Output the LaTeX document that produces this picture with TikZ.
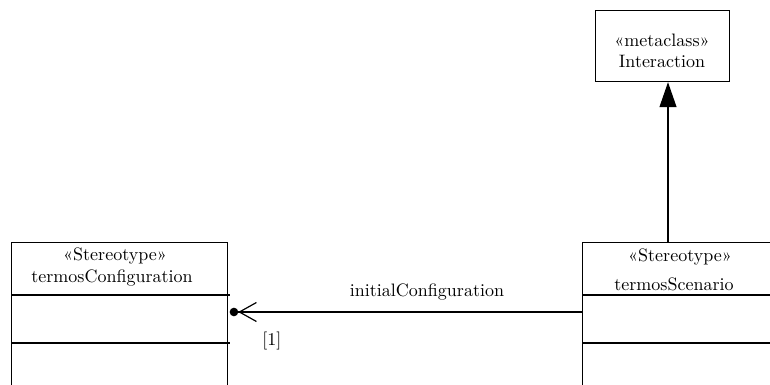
\documentclass[tikz,border=0pt]{standalone}
\usetikzlibrary{arrows.meta,calc}

\tikzset{
  umlbox/.style={draw,line width=1.2pt,rectangle,anchor=north west,inner sep=0pt},
  umlline/.style={line width=1.2pt},
  umltext/.style={inner sep=0pt,scale=1.8},
  assoc/.style={line width=1.2pt,-{Straight Barb[length=17pt,width=19pt,line width=1.2pt]Circle[length=8.5pt]}},
  extends/.style={line width=1.2pt,-{Triangle[length=25pt,width=17pt]}}
}

\begin{document}
\begin{tikzpicture}[x=1pt,y=-1pt]

      \useasboundingbox (0,0) rectangle (770,385);
      \clip (0,0) rectangle (770,385);

      % class boxes
      \node[umlbox,minimum width=216pt,minimum height=170pt] (config)   at (11,242)  {};
      \node[umlbox,minimum width=220pt,minimum height=170pt] (scenario) at (582,242) {};
      \node[umlbox,minimum width=134pt,minimum height=71pt]  (interact) at (595,10)  {};

      % compartments
      \draw[umlline] (config.west |- 0,295)   -- +(219,0);
      \draw[umlline] (config.west |- 0,343)   -- +(219,0);
      \draw[umlline] (scenario.west |- 0,295) -- +(220,0);
      \draw[umlline] (scenario.west |- 0,343) -- +(220,0);

      \begin{scope}[every node/.style={umltext}]
        \node (configst)   at (115,256) {«Stereotype»};
        \node (confignm)   at (112,278) {termosConfiguration};
        \node (scenariost) at (680,257) {«Stereotype»};
        \node (scenarionm) at (674,284) {termosScenario};
        \node (interst)    at (662,40)  {«metaclass»};
        \node (internm)    at (662,61)  {Interaction};
      \end{scope}

      \coordinate (cfgend) at ($(config.north east |- 0,312)+(1.5,0)$);

      \draw[assoc] (scenario.west |- cfgend) -- (cfgend)
        node[umltext,pos=0.44,above=6.2pt] (assocname) {initialConfiguration}
        node[umltext,pos=0.88,below=10.5pt] (mult) {[1]};

      \draw[extends] (scenario.north -| 668,0) -- (interact.south -| 668,0);

    \end{tikzpicture}
\end{document}
